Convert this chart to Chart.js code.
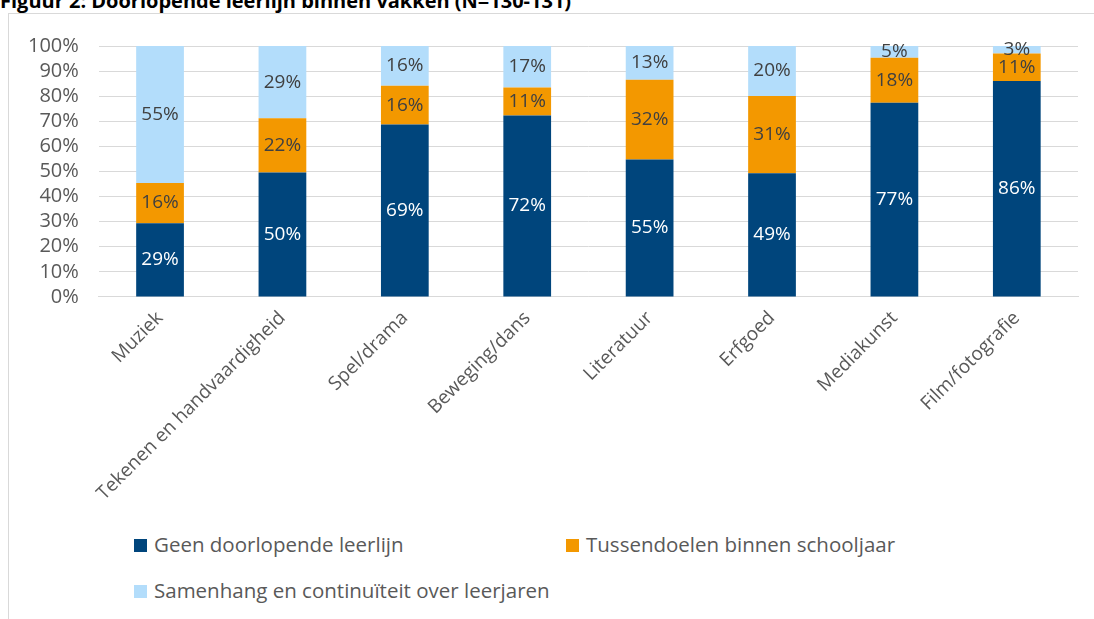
<!DOCTYPE html>
<html>
<head>
<meta charset="utf-8">
<script src="https://cdn.jsdelivr.net/npm/chart.js@4/dist/chart.umd.min.js"></script>
<style>
  body { margin: 0; background: #fff; font-family: "Open Sans", sans-serif; }
  #wrap { position: relative; width: 1094px; height: 619px; overflow: hidden; }
  #title { position: absolute; left: 0; top: -13px; font-weight: bold; font-size: 20px; color: #000; white-space: nowrap; }
  #frame { position: absolute; left: 8px; top: 13px; width: 1100px; height: 700px; border: 1px solid #d9d9d9; }
  #box { position: absolute; left: 0; top: 14px; width: 1094px; height: 493px; }
  #legend { position: absolute; left: 134px; top: 530px; width: 900px; font-size: 20.5px; color: #595959; }
  .item { position: absolute; white-space: nowrap; }
  .sw { display: inline-block; width: 13px; height: 13px; margin-right: 7px; vertical-align: 0px; }
</style>
</head>
<body>
<div id="wrap">
  <div id="title">Figuur 2: Doorlopende leerlijn binnen vakken (N=130-131)</div>
  <div id="frame"></div>
  <div id="box"><canvas id="chart"></canvas></div>
  <div id="legend"></div>
</div>
<script>
// categories and series (percentages)
const categories = ['Muziek', 'Tekenen en handvaardigheid', 'Spel/drama', 'Beweging/dans', 'Literatuur', 'Erfgoed', 'Mediakunst', 'Film/fotografie'];
const seriesNames = ['Geen doorlopende leerlijn', 'Tussendoelen binnen schooljaar', 'Samenhang en continuïteit over leerjaren'];
const geen = [29.4, 49.6, 68.7, 72.3, 54.8, 49.3, 77.4, 86.1];
const tussen = [16.0, 21.6, 15.5, 11.2, 31.8, 30.8, 17.9, 10.9];
const samenhang = [54.6, 28.8, 15.8, 16.5, 13.4, 19.9, 4.7, 3.0];
const yTicks = [0, 10, 20, 30, 40, 50, 60, 70, 80, 90, 100];
const colors = ['#00457C', '#F39800', '#B3DDFB'];
const labelColors = ['#FFFFFF', '#404040', '#404040'];

//draw value labels in the middle of each segment
const segmentLabels = {
    id: 'segmentLabels',
    afterDatasetsDraw(chart) {
        const c = chart.ctx;
        c.save();
        c.font = '19px "Open Sans"';
        c.textAlign = 'center';
        c.textBaseline = 'middle';
        chart.data.datasets.forEach((ds, i) => {
            const meta = chart.getDatasetMeta(i);
            meta.data.forEach((bar, j) => {
                const y = (bar.y + bar.base) / 2;
                c.fillStyle = labelColors[i];
                c.fillText(Math.round(ds.data[j]) + '%', bar.x, y);
            });
        });
        c.restore();
    }
};

const seriesData = [geen, tussen, samenhang];
const chart = new Chart(document.querySelector('#chart'), {
    type: 'bar',
    data: {
        labels: categories,
        datasets: seriesData.map((d, i) => ({
            label: seriesNames[i],
            data: d,
            backgroundColor: colors[i],
            borderWidth: 0,
            barPercentage: 0.39,
            categoryPercentage: 1
        }))
    },
    options: {
        responsive: true,
        maintainAspectRatio: false,
        animation: false,
        layout: { padding: { left: 8, right: 16, top: 9 } },
        plugins: {
            legend: { display: false },
            tooltip: { enabled: false }
        },
        scales: {
            x: {
                stacked: true,
                grid: { display: false },
                border: { color: '#d9d9d9' },
                ticks: {
                    color: '#595959',
                    font: { family: 'Open Sans', size: 19 },
                    minRotation: 45,
                    maxRotation: 45,
                    padding: 2
                }
            },
            y: {
                stacked: true,
                min: 0,
                max: 100,
                afterBuildTicks: (axis) => { axis.ticks = yTicks.map(v => ({ value: v })); },
                grid: { color: '#d9d9d9', drawTicks: false },
                border: { display: false },
                ticks: {
                    color: '#595959',
                    font: { family: 'Open Sans', size: 20 },
                    padding: 20,
                    autoSkip: false,
                    callback: (v) => v + '%'
                }
            }
        }
    },
    plugins: [segmentLabels]
});

//legend built from series names
const legend = document.querySelector('#legend');
const spots = [[0, 0], [432, 0], [0, 46]];
seriesNames.forEach((name, i) => {
    const div = document.createElement('div');
    div.className = 'item';
    div.style.left = spots[i][0] + 'px';
    div.style.top = spots[i][1] + 'px';
    div.innerHTML = '<span class="sw" style="background:' + colors[i] + '"></span>' + name;
    legend.appendChild(div);
});
</script>
</body>
</html>
